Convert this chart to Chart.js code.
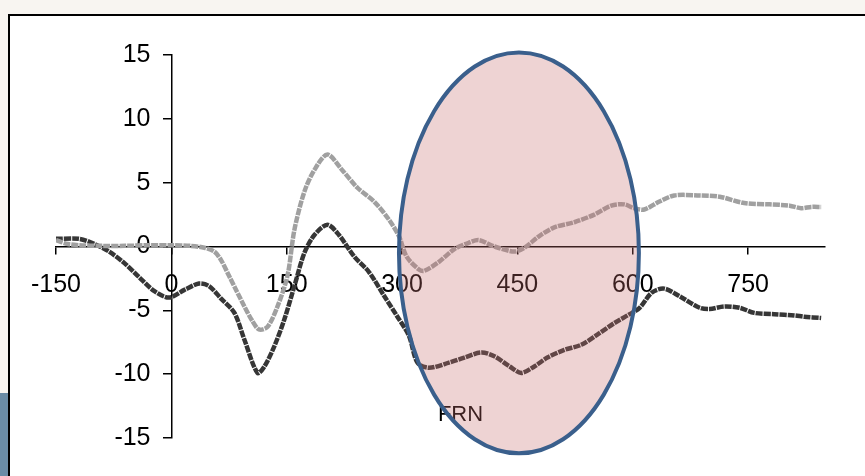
<!DOCTYPE html>
<html>
<head>
<meta charset="utf-8">
<script src="https://cdn.jsdelivr.net/npm/chart.js@4/dist/chart.umd.min.js"></script>
<style>
  html,body{margin:0;padding:0;}
  body{width:865px;height:476px;background:#f8f5f1;position:relative;overflow:hidden;font-family:"Liberation Sans",Arial,sans-serif;}
  .strip{position:absolute;left:0;top:393px;width:8px;height:83px;background:#6a8ca6;}
  .frame{position:absolute;left:8px;top:14px;width:900px;height:500px;background:#fff;border:2px solid #000;}
  #c{position:absolute;left:0;top:0;}
</style>
</head>
<body>
<div class="strip"></div>
<div class="frame"></div>
<canvas id="c" width="865" height="476"></canvas>
<script>
// ERP waveforms (ms vs microvolts)
const xTicks=[-150,0,150,300,450,600,750];
const yTicks=[-15,-10,-5,0,5,10,15];

const grayTimes=[-150,-135,-120,-90,-60,-30,0,25,43,56,65,75,85,95,105,114,125,138,151,160,173,186,203,222,242,264,283,296,306,322,329,348,368,387,400,420,446,459,478,498,524,550,572,589,602,615,634,654,687,713,745,778,804,819,832,845];
const grayValues=[0.5,0.2,0.1,0.05,0.05,0.1,0.1,0.05,-0.1,-0.4,-1.1,-2.3,-3.5,-4.7,-5.8,-6.5,-6.3,-4.7,-2.3,1.3,4.3,6.0,7.2,6.0,4.6,3.5,2.1,0.8,-0.8,-1.8,-1.9,-1.2,-0.2,0.3,0.5,0.0,-0.4,-0.1,0.8,1.5,1.9,2.5,3.2,3.3,3.0,2.9,3.5,4.0,4.0,3.9,3.4,3.3,3.2,3.0,3.1,3.1];

const darkTimes=[-150,-120,-100,-81,-61,-42,-22,-3,17,36,49,65,82,95,112,121,134,147,160,173,186,203,218,238,257,277,294,309,320,335,361,381,403,420,440,455,472,489,511,533,554,576,596,609,625,641,661,687,700,719,739,758,784,810,823,845];
const darkValues=[0.6,0.6,0.2,-0.4,-1.3,-2.4,-3.5,-4.0,-3.4,-2.9,-3.1,-4.1,-5.2,-7.3,-9.9,-9.4,-7.8,-5.7,-3.1,-0.5,0.9,1.7,0.9,-0.8,-2.0,-3.9,-5.5,-7.0,-9.1,-9.5,-9.1,-8.7,-8.3,-8.6,-9.4,-9.9,-9.4,-8.7,-8.1,-7.7,-6.9,-6.0,-5.3,-4.8,-3.6,-3.3,-3.9,-4.8,-4.9,-4.7,-4.8,-5.2,-5.3,-5.4,-5.5,-5.6];

// FRN window highlight (in data units)
const frnCenter={x:452,y:-0.5}, frnRadius={x:156,y:15.7};
const frnLabel={text:'FRN',x:376,y:-13.2};

const pts=(t,v)=>t.map((x,i)=>({x,y:v[i]}));

const frnPlugin={
  id:'frn',
  afterDatasetsDraw(chart){
    const {ctx,scales:{x,y}}=chart;
    ctx.save();
    ctx.font='22px "Liberation Sans", Arial, sans-serif';
    ctx.fillStyle='#000';ctx.textAlign='center';ctx.textBaseline='middle';
    ctx.fillText(frnLabel.text,x.getPixelForValue(frnLabel.x),y.getPixelForValue(frnLabel.y));
    const cx=x.getPixelForValue(frnCenter.x), cy=y.getPixelForValue(frnCenter.y);
    const rx=x.getPixelForValue(frnCenter.x+frnRadius.x)-cx;
    const ry=cy-y.getPixelForValue(frnCenter.y+frnRadius.y);
    ctx.beginPath();ctx.ellipse(cx,cy,rx,ry,0,0,Math.PI*2);
    ctx.fillStyle='rgba(200,110,110,0.3)';ctx.fill();
    ctx.lineWidth=4;ctx.strokeStyle='#3a5f8c';ctx.stroke();
    ctx.restore();
  }
};

const font={family:'"Liberation Sans", Arial, sans-serif',size:25};
new Chart(document.getElementById('c'),{
  type:'line',
  data:{datasets:[
    {label:'gray',data:pts(grayTimes,grayValues),borderColor:'#a0a0a0',borderWidth:4.5,borderDash:[7,1],pointRadius:0,tension:0.3,fill:false},
    {label:'dark',data:pts(darkTimes,darkValues),borderColor:'#363636',borderWidth:4.5,borderDash:[7,1],pointRadius:0,tension:0.3,fill:false}
  ]},
  options:{
    responsive:false,animation:false,
    layout:{padding:{left:56,right:40,top:55,bottom:38}},
    plugins:{legend:{display:false},tooltip:{enabled:false}},
    scales:{
      x:{type:'linear',min:-150,max:850,position:{y:0},
        afterBuildTicks:s=>{s.ticks=xTicks.map(v=>({value:v}));},
        grid:{display:true,drawOnChartArea:false,drawTicks:true,tickLength:7,color:'#000',lineWidth:1.5},
        border:{display:true,color:'#000',width:1.5},
        ticks:{color:'#000',font,padding:17,maxRotation:0,autoSkip:false}},
      y:{type:'linear',min:-15,max:15,position:{x:0},
        afterBuildTicks:s=>{s.ticks=yTicks.map(v=>({value:v}));},
        grid:{display:true,drawOnChartArea:false,drawTicks:true,tickLength:8,color:'#000',lineWidth:1.5},
        border:{display:true,color:'#000',width:1.5},
        // labels sit ~20px left of the axis line
        ticks:{color:'#000',font,autoSkip:false,callback:v=>v+'   '}}
    }
  },
  plugins:[frnPlugin]
});
</script>
</body>
</html>
